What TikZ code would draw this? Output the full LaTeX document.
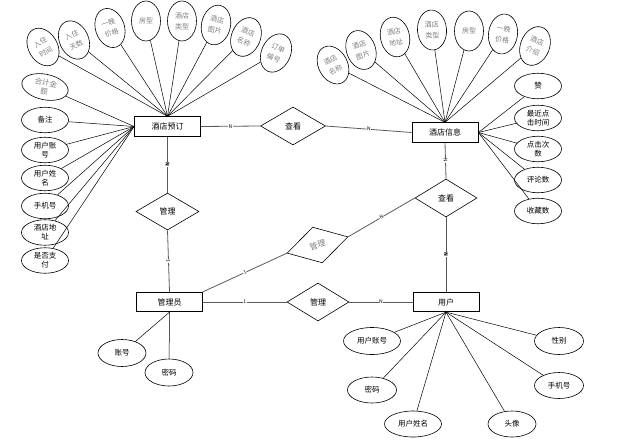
\documentclass[tikz,border=0pt]{standalone}
\usepackage{fontspec}
\setmainfont{Noto Sans CJK SC}
\usetikzlibrary{shapes.geometric}

\tikzset{
  entity/.style={draw, line width=0.8pt, fill=white, minimum width=66, minimum height=19.5, inner sep=0pt, font=\fontsize{8}{10}\selectfont},
  relation/.style={draw, diamond, line width=0.6pt, fill=white, minimum width=64, minimum height=38, inner sep=0pt, font=\fontsize{8}{10}\selectfont},
  attr/.style={draw, ellipse, line width=0.6pt, fill=white, minimum width=47, minimum height=25.5, inner sep=-1pt, align=center, font=\fontsize{7.5}{9}\selectfont},
  tattr/.style={draw, ellipse, line width=0.6pt, fill=white, minimum width=29, minimum height=40, inner sep=0pt, align=center, text=gray, font=\fontsize{7}{11}\selectfont},
  link/.style={line width=0.5pt},
  rlink/.style={line width=0.8pt, draw=black!65},
  card/.style={fill=white, inner sep=0.4pt, font=\fontsize{5}{5}\selectfont}
}

\begin{document}
\begin{tikzpicture}[x=1pt, y=-1pt]
\useasboundingbox (0,0) rectangle (631,447);

% Entities
\node[entity] (booking) at (167.5,126.5) {酒店预订};
\node[entity] (hotel) at (445,132.5) {酒店信息};
\node[entity] (admin) at (169.5,302) {管理员};
\node[entity] (user) at (446,302) {用户};

% Relations
\node[relation, minimum width=65] (viewA) at (293,126) {查看};
\node[relation, minimum width=63, minimum height=37] (manageA) at (167.5,211.5) {管理};
\node[relation, minimum width=62] (viewB) at (446,198) {查看};
\node[relation, minimum width=63, minimum height=37, rotate=15, text=gray] (manageB) at (317.5,245) {管理};
\node[relation, minimum width=62] (manageC) at (318,302) {管理};

% Attributes of booking (top)
\node[tattr, rotate=30] (bk1) at (43,47) {入住\\时间};
\node[tattr, rotate=25] (bk2) at (74,40) {入住\\天数};
\node[tattr, rotate=18] (bk3) at (110,28) {一晚\\价格};
\node[tattr] (bk4) at (146,21) {房型};
\node[tattr] (bk5) at (182,21) {酒店\\类型};
\node[tattr, rotate=-12] (bk6) at (216,25) {酒店\\图片};
\node[tattr, rotate=-22] (bk7) at (246,37) {酒店\\名称};
\node[tattr, rotate=-25] (bk8) at (276,53) {订单\\编号};

% Attributes of booking (left)
\node[attr, rotate=-12, text=gray] (bk9) at (45,87) {合计金\\额};
\node[attr] (bk10) at (45,120) {备注};
\node[attr] (bk11) at (45,150) {用户账\\号};
\node[attr] (bk12) at (45,178) {用户姓\\名};
\node[attr] (bk13) at (45,206) {手机号};
\node[attr] (bk14) at (45,232.5) {酒店地\\址};
\node[attr] (bk15) at (45,260.5) {是否支\\付};

% Attributes of hotel (top)
\node[tattr, rotate=28] (ht1) at (333,65) {酒店\\名称};
\node[tattr, rotate=20] (ht2) at (361,50) {酒店\\图片};
\node[tattr, rotate=12] (ht3) at (395,37) {酒店\\地址};
\node[tattr, rotate=4] (ht4) at (432,30) {酒店\\类型};
\node[tattr] (ht5) at (469,31) {房型};
\node[tattr, rotate=-8] (ht6) at (503,34) {一晚\\价格};
\node[tattr, rotate=-22] (ht7) at (535,46) {酒店\\介绍};

% Attributes of hotel (right)
\node[attr] (ht8) at (538,86) {赞};
\node[attr] (ht9) at (538,118) {最近点\\击时间};
\node[attr] (ht10) at (538,149) {点击次\\数};
\node[attr] (ht11) at (538,180) {评论数};
\node[attr] (ht12) at (538,211) {收藏数};

% Attributes of admin
\node[attr, minimum width=48, minimum height=27] (ad1) at (122,353) {账号};
\node[attr, minimum width=48, minimum height=27] (ad2) at (169,372.5) {密码};

% Attributes of user
\node[attr, minimum width=57, minimum height=27] (us1) at (372,341) {用户账号};
\node[attr, minimum width=49, minimum height=26] (us2) at (372,390) {密码};
\node[attr, minimum width=57, minimum height=26] (us3) at (413,424) {用户姓名};
\node[attr, minimum width=48, minimum height=26] (us4) at (512,424) {头像};
\node[attr, minimum width=49, minimum height=26] (us5) at (559,385.5) {手机号};
\node[attr, minimum width=49, minimum height=27] (us6) at (559,341) {性别};

% Connect attributes
\draw[link] (bk1) -- (booking.north);
\draw[link] (bk2) -- (booking.north);
\draw[link] (bk3) -- (booking.north);
\draw[link] (bk4) -- (booking.north);
\draw[link] (bk5) -- (booking.north);
\draw[link] (bk6) -- (booking.north);
\draw[link] (bk7) -- (booking.north);
\draw[link] (bk8) -- (booking.north);
\draw[link] (bk9) -- (booking.west);
\draw[link] (bk10) -- (booking.west);
\draw[link] (bk11) -- (booking.west);
\draw[link] (bk12) -- (booking.west);
\draw[link] (bk13) -- (booking.west);
\draw[link] (bk14) -- (booking.west);
\draw[link] (bk15) -- (booking.west);

\draw[link] (ht1) -- (hotel.north);
\draw[link] (ht2) -- (hotel.north);
\draw[link] (ht3) -- (hotel.north);
\draw[link] (ht4) -- (hotel.north);
\draw[link] (ht5) -- (hotel.north);
\draw[link] (ht6) -- (hotel.north);
\draw[link] (ht7) -- (hotel.north);
\draw[link] (ht8) -- (hotel.east);
\draw[link] (ht9) -- (hotel.east);
\draw[link] (ht10) -- (hotel.east);
\draw[link] (ht11) -- (hotel.east);
\draw[link] (ht12) -- (hotel.east);

\draw[link] (ad1) -- (admin.south);
\draw[link] (ad2) -- (admin.south);

\draw[link] (us1) -- (user.south);
\draw[link] (us2) -- (user.south);
\draw[link] (us3) -- (user.south);
\draw[link] (us4) -- (user.south);
\draw[link] (us5) -- (user.south);
\draw[link] (us6) -- (user.south);

% Connect relations with cardinalities
\draw[rlink] (booking.east) -- (viewA.west) node[card, midway] {N};
\draw[rlink] (viewA.east) -- (hotel.west) node[card, midway, sloped] {N};
\draw[rlink] (booking.south) -- (manageA.north) node[card, midway, sloped, font=\fontsize{5}{5}\selectfont\bfseries] {N};
\draw[rlink] (manageA.south) -- (admin.north) node[card, midway, sloped] {1};
\draw[rlink] (admin.north east) -- (manageB.west) node[card, midway, sloped] {1};
\draw[rlink] (manageB.east) -- (viewB.west) node[card, midway, sloped] {N};
\draw[rlink] (hotel.south) -- (viewB.north) node[card, midway, sloped] {N};
\draw[rlink] (viewB.south) -- (user.north) node[card, midway, sloped, font=\fontsize{5}{5}\selectfont\bfseries] {N};
\draw[rlink] (admin.east) -- (manageC.west) node[card, midway] {1};
\draw[rlink] (manageC.east) -- (user.west) node[card, midway] {N};
\end{tikzpicture}
\end{document}
